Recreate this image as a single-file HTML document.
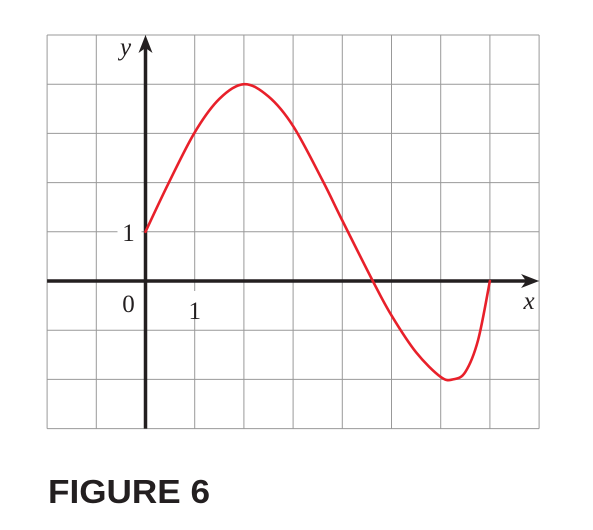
<!DOCTYPE html>
<html><head><meta charset="utf-8"><style>
html,body{margin:0;padding:0;background:#fff;}
svg{display:block;}
</style></head><body>
<svg id="chart" width="593" height="530" viewBox="0 0 593 530">
<g id="grid"></g>
<g id="axes"></g>
<path id="curve" fill="none" stroke="#e8202a" stroke-width="2.6" stroke-linejoin="round" stroke-linecap="round"/>
<text x="48" y="503" font-family="'Liberation Sans',sans-serif" font-weight="bold" font-size="33" fill="#231f20" textLength="162" lengthAdjust="spacingAndGlyphs">FIGURE 6</text>
</svg>
<script>
const curveX = [0, 0.46, 1, 1.5, 2, 2.5, 3, 3.6, 4, 4.62, 5, 5.5, 6.0, 6.25, 6.5, 6.76, 7];
const curveY = [1, 1.97, 3.02, 3.7, 4, 3.75, 3.15, 2.04, 1.23, 0, -0.7, -1.45, -1.95, -2, -1.85, -1.2, 0];
const xTicks = [1];
const yTicks = [1];
const X0=145.5, UX=49.2, Y0=281, UY=49.2;
const xMin=-2, xMax=8, yMin=-3, yMax=5;
const sx=v=>X0+v*UX, sy=v=>Y0-v*UY;
const NS="http://www.w3.org/2000/svg";
function mk(tag,attrs,parent){const e=document.createElementNS(NS,tag);for(const k in attrs)e.setAttribute(k,attrs[k]);parent.appendChild(e);return e;}
const grid=document.getElementById('grid'), axes=document.getElementById('axes');
for(let i=xMin;i<=xMax;i++){const l=mk('line',{x1:sx(i),x2:sx(i),y1:sy(yMax),y2:sy(yMin),stroke:'#999','stroke-width':1},grid);

}
for(let j=yMin;j<=yMax;j++){const l=mk('line',{x1:sx(xMin),x2:sx(xMax),y1:sy(j),y2:sy(j),stroke:'#999','stroke-width':1},grid);

}
let ax=mk('line',{x1:sx(xMin),x2:sx(xMax)-6,y1:Y0,y2:Y0,stroke:'#231f20','stroke-width':3.5},axes);


let ay=mk('line',{x1:X0,x2:X0,y1:sy(yMin),y2:sy(yMax)+6,stroke:'#231f20','stroke-width':3.5},axes);


let axa=mk('path',{d:`M${sx(xMax)} ${Y0} L${sx(xMax)-18} ${Y0-7} L${sx(xMax)-13} ${Y0} L${sx(xMax)-18} ${Y0+7}Z`,fill:'#231f20'},axes);


let aya=mk('path',{d:`M${X0} ${sy(yMax)} L${X0-7} ${sy(yMax)+18} L${X0} ${sy(yMax)+13} L${X0+7} ${sy(yMax)+18}Z`,fill:'#231f20'},axes);


const serif="'Liberation Serif',serif";
function txt(s,x,y,name,italic){const t=mk('text',{x:x,y:y,'font-family':serif,'font-size':25,fill:'#231f20','text-anchor':'middle'},axes);if(italic)t.setAttribute('font-style','italic');t.textContent=s;

return t;}
for(const v of yTicks){const r=mk('rect',{x:X0-28,y:sy(v)-12,width:24,height:24,fill:'#fff'},axes);


txt(String(v),X0-17,sy(v)+9,'y-tick-label',false);}
for(const v of xTicks){const r=mk('rect',{x:sx(v)-8,y:Y0+10,width:16,height:26,fill:'#fff'},axes);


txt(String(v),sx(v),Y0+38,'x-tick-label',false);}
txt('0',X0-17,Y0+31,'origin-label',false);
txt('x',sx(xMax)-10,Y0+28,'x-axis-title',true);
txt('y',X0-20,sy(yMax)+20,'y-axis-title',true);
const P=curveX.map((v,i)=>[sx(v),sy(curveY[i])]);
let d=`M${P[0][0]} ${P[0][1]}`;
for(let i=0;i<P.length-1;i++){const p0=P[Math.max(0,i-1)],p1=P[i],p2=P[i+1],p3=P[Math.min(P.length-1,i+2)];
d+=` C${p1[0]+(p2[0]-p0[0])/6} ${p1[1]+(p2[1]-p0[1])/6} ${p2[0]-(p3[0]-p1[0])/6} ${p2[1]-(p3[1]-p1[1])/6} ${p2[0]} ${p2[1]}`;}
document.getElementById('curve').setAttribute('d',d);
</script>
</body></html>
